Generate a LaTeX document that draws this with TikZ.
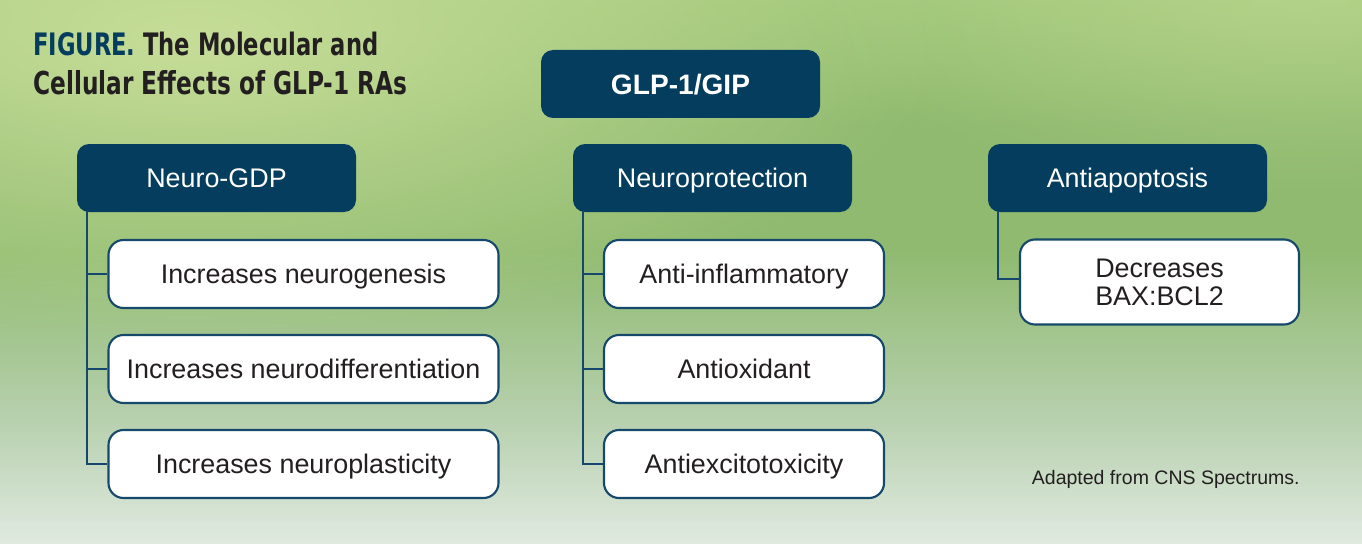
\documentclass[tikz,border=0pt]{standalone}
\usepackage{fontspec}
\setmainfont{Liberation Sans}
\newfontfamily\condfont{DejaVu Sans Condensed}
\usetikzlibrary{positioning,fadings}
\tikzfading[name=softfade, inner color=transparent!0, outer color=transparent!100]
\definecolor{navy}{HTML}{043D5D}
\definecolor{linecol}{HTML}{15486A}
\definecolor{txt}{HTML}{231F20}
\definecolor{bgtop}{HTML}{A0C779}
\definecolor{bgmid}{HTML}{8FBA6F}
\definecolor{bglow}{HTML}{B7D0AE}
\definecolor{bgbot}{HTML}{E0EAE0}
\definecolor{hilite}{HTML}{C6DD98}
\tikzset{
  hdr/.style={fill=navy, rounded corners=12*0.02cm, minimum width=279*0.02cm, minimum height=68*0.02cm, text=white, font=\fontsize{15.3}{17}\selectfont, inner sep=0pt, text height=10.9pt, text depth=0pt},
  top/.style={hdr, font=\fontsize{16}{18}\selectfont\bfseries, text height=11.4pt},
  item/.style={draw=linecol, line width=1.2pt, fill=white, rounded corners=15*0.02cm, minimum width=390*0.02cm, minimum height=68*0.02cm, text=txt, font=\fontsize{15.3}{17}\selectfont, inner sep=0pt, align=center, text height=10.9pt, text depth=0pt},
  itemr/.style={item, minimum width=279*0.02cm, minimum height=85*0.02cm, text height=, text depth=},
  conn/.style={draw=linecol, line width=1.3pt},
}
\begin{document}
\begin{tikzpicture}[x=0.02cm, y=-0.02cm]
\useasboundingbox (0,0) rectangle (1362,544);
% background
\begin{scope}
\clip (0,0) rectangle (1362,544);
\shade[top color=bgtop, bottom color=bgmid, middle color=bgmid] (0,0) rectangle (1362,250);
\shade[top color=bgmid, bottom color=bglow] (0,250) rectangle (1362,420);
\shade[top color=bglow, bottom color=bgbot] (0,420) rectangle (1362,544);
\fill[hilite, path fading=softfade] (190,40) ellipse (760 and 300);
\fill[hilite, opacity=0.5, path fading=softfade] (1300,0) ellipse (500 and 200);
\end{scope}

% title
\node[anchor=south west, inner sep=0pt] (t1) at (33,56) {\resizebox{6.9cm}{0.47cm}{\condfont\bfseries\textcolor{navy}{FIGURE.} \textcolor{txt}{The Molecular and}}};
\node[anchor=south west, inner sep=0pt] (t2) at (33,95) {\resizebox{7.48cm}{0.48cm}{\condfont\bfseries\textcolor{txt}{Cellular Effects of GLP-1 RAs}}};

% top node
\node[top] (glp) at (680.5,84) {GLP-1/GIP};

% headers
\node[hdr] (h1) at (216.5,178) {Neuro-GDP};
\node[hdr] (h2) at (712.5,178) {Neuroprotection};
\node[hdr] (h3) at (1127.5,178) {Antiapoptosis};

% items
\node[item] (a1) at (303.5,274) {Increases neurogenesis};
\node[item] (a2) at (303.5,369) {Increases neurodifferentiation};
\node[item] (a3) at (303.5,464) {Increases neuroplasticity};
\node[item, minimum width=280*0.02cm] (b1) at (744,274) {Anti-inflammatory};
\node[item, minimum width=280*0.02cm] (b2) at (744,369) {Antioxidant};
\node[item, minimum width=280*0.02cm] (b3) at (744,464) {Antiexcitotoxicity};
\node[itemr] (c1) at (1159.5,282) {Decreases\\[-1pt]BAX:BCL2};

% connectors
\coordinate (s1) at (87,211);
\coordinate (s2) at (583,211);
\coordinate (s3) at (998,211);
\draw[conn] (s1) |- (a3.west);
\draw[conn] (a1.west) -- (a1.west -| s1);
\draw[conn] (a2.west) -- (a2.west -| s1);
\draw[conn] (s2) |- (b3.west);
\draw[conn] (b1.west) -- (b1.west -| s2);
\draw[conn] (b2.west) -- (b2.west -| s2);
\draw[conn] (s3) |- ([yshift=3*0.02cm]c1.west);

% footnote
\node[anchor=east, text=txt, font=\fontsize{11.1}{13}\selectfont, inner sep=0pt] (src) at (1300,479) {Adapted from CNS Spectrums.};
\end{tikzpicture}
\end{document}
